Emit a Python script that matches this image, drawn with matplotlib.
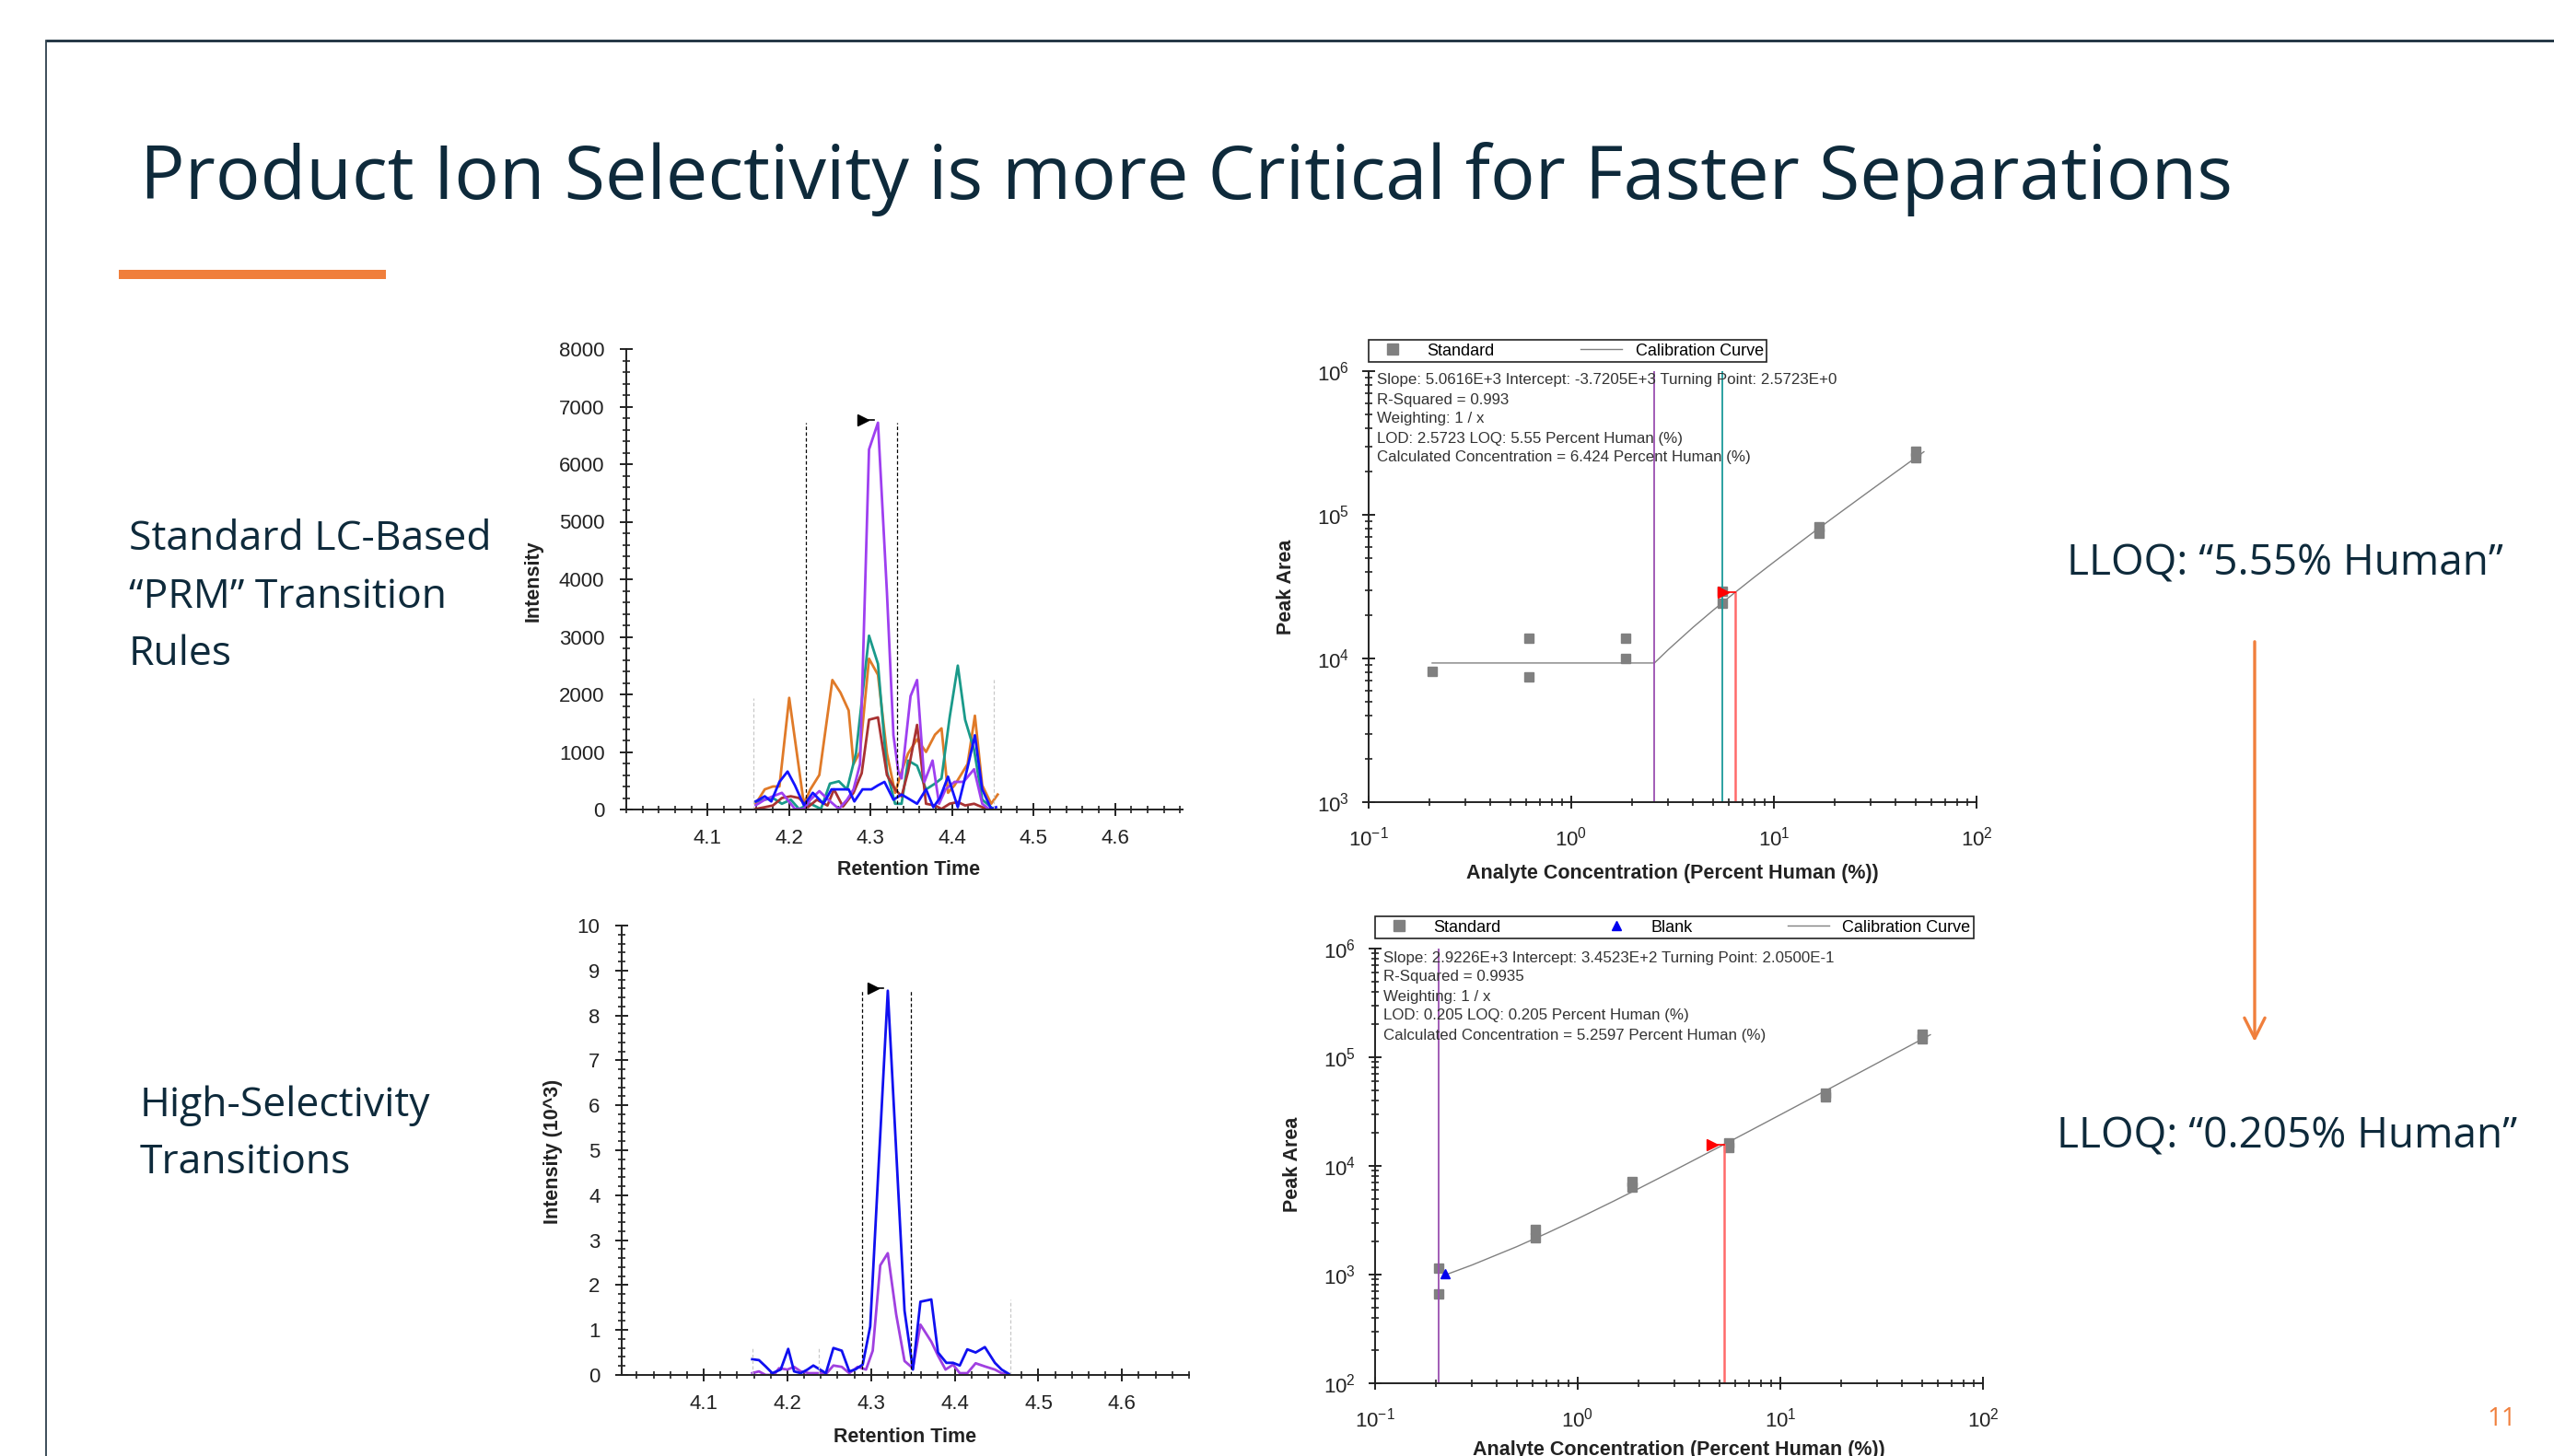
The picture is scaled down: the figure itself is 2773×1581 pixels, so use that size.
import matplotlib
matplotlib.use('Agg')
import matplotlib.pyplot as plt
from matplotlib.lines import Line2D
from matplotlib.patches import Rectangle
from matplotlib.ticker import MultipleLocator, FixedLocator, LogLocator, NullFormatter

W, H = 2773, 1581
NAVY = '#0e2a3b'
ORANGE = '#f07f3c'
INK = '#222222'

plt.rcParams['font.family'] = ['Liberation Sans', 'DejaVu Sans']
plt.rcParams['mathtext.fontset'] = 'custom'
plt.rcParams['mathtext.rm'] = 'Liberation Sans'
plt.rcParams['mathtext.it'] = 'Liberation Sans:italic'
plt.rcParams['mathtext.bf'] = 'Liberation Sans:bold'

# ---- chromatogram, standard transitions (intensity)
top_orange_t = [4.159, 4.170, 4.180, 4.188, 4.200, 4.218, 4.226, 4.237, 4.253, 4.263, 4.273, 4.279, 4.287, 4.298, 4.309,
                4.320, 4.330, 4.338, 4.346, 4.357, 4.368, 4.379, 4.387, 4.395, 4.403, 4.419, 4.428, 4.437, 4.448, 4.456]
top_orange_i = [100, 350, 400, 400, 1940, 100, 350, 600, 2250, 2030, 1720, 790, 1000, 2620, 2340,
                975, 290, 660, 975, 1220, 1000, 1300, 1410, 290, 420, 790, 1630, 420, 100, 260]
top_teal_t = [4.159, 4.170, 4.180, 4.191, 4.202, 4.212, 4.226, 4.239, 4.250, 4.261, 4.271, 4.282, 4.298, 4.309,
              4.320, 4.330, 4.338, 4.346, 4.357, 4.368, 4.379, 4.387, 4.397, 4.407, 4.416, 4.427, 4.437, 4.448]
top_teal_i = [140, 170, 200, 100, 170, 10, 100, 10, 450, 490, 350, 975, 3020, 2530,
              660, 100, 100, 850, 760, 350, 450, 540, 1600, 2500, 1560, 1040, 170, 40]
top_brown_t = [4.159, 4.170, 4.180, 4.191, 4.202, 4.212, 4.223, 4.234, 4.247, 4.255, 4.266, 4.279, 4.289, 4.298, 4.309,
               4.320, 4.330, 4.338, 4.346, 4.357, 4.368, 4.379, 4.387, 4.397, 4.407, 4.416, 4.427, 4.437, 4.445]
top_brown_i = [10, 40, 70, 200, 230, 200, 40, 170, 70, 350, 50, 290, 630, 1560, 1600,
               600, 350, 230, 660, 1470, 100, 70, 10, 100, 130, 70, 100, 40, 10]
top_purple_t = [4.159, 4.170, 4.180, 4.191, 4.202, 4.207, 4.218, 4.226, 4.237, 4.248, 4.261, 4.271, 4.279, 4.287, 4.298,
                4.309, 4.320, 4.328, 4.334, 4.338, 4.349, 4.357, 4.366, 4.376, 4.384, 4.392, 4.403, 4.414, 4.427, 4.437, 4.445]
top_purple_i = [75, 170, 230, 290, 100, 10, 10, 170, 320, 170, 10, 170, 350, 790, 6255,
                6720, 3770, 1290, 660, 540, 1970, 2250, 480, 850, 100, 350, 480, 480, 700, 100, 10]
top_blue_t = [4.159, 4.170, 4.178, 4.188, 4.198, 4.207, 4.218, 4.229, 4.242, 4.252, 4.263, 4.273, 4.280, 4.290, 4.301,
              4.309, 4.317, 4.328, 4.338, 4.357, 4.368, 4.377, 4.385, 4.395, 4.407, 4.419, 4.428, 4.437, 4.448, 4.454]
top_blue_i = [140, 230, 140, 480, 660, 420, 75, 290, 100, 350, 350, 350, 140, 350, 350,
              420, 480, 170, 260, 100, 350, 40, 200, 570, 40, 730, 1290, 350, 10, 40]
top_peak_bounds = [4.2205, 4.332]
top_window = [(4.156, 1940), (4.451, 2250)]
top_apex = (4.291, 6765)

# ---- chromatogram, high-selectivity transitions (intensity x 10^3)
bot_blue_t = [4.158, 4.166, 4.174, 4.182, 4.192, 4.201, 4.208, 4.216, 4.224, 4.231, 4.239, 4.246, 4.255, 4.265, 4.274,
              4.281, 4.290, 4.299, 4.310, 4.320, 4.330, 4.340, 4.350, 4.359, 4.372, 4.380, 4.390, 4.398, 4.406, 4.415,
              4.425, 4.436, 4.448, 4.456, 4.465]
bot_blue_i = [0.35, 0.33, 0.19, 0.04, 0.12, 0.58, 0.08, 0.04, 0.12, 0.21, 0.12, 0.04, 0.60, 0.54, 0.08,
              0.12, 0.23, 1.08, 4.99, 8.55, 5.0, 1.43, 0.12, 1.63, 1.68, 0.5, 0.27, 0.27, 0.21, 0.57,
              0.5, 0.62, 0.27, 0.12, 0.02]
bot_purple_t = [4.158, 4.166, 4.174, 4.184, 4.190, 4.200, 4.208, 4.216, 4.226, 4.237, 4.247, 4.255, 4.265, 4.274, 4.284,
                4.294, 4.302, 4.311, 4.320, 4.330, 4.340, 4.350, 4.359, 4.372, 4.380, 4.389, 4.398, 4.406, 4.415, 4.425,
                4.436, 4.448, 4.456, 4.465]
bot_purple_i = [0.04, 0.08, 0.0, 0.0, 0.15, 0.12, 0.18, 0.08, 0.04, 0.04, 0.04, 0.21, 0.18, 0.04, 0.18,
                0.12, 0.54, 2.44, 2.71, 1.35, 0.31, 0.15, 1.12, 0.74, 0.43, 0.12, 0.23, 0.04, 0.04, 0.26,
                0.19, 0.12, 0.04, 0.0]
bot_peak_bounds = [4.289, 4.348]
bot_window = [(4.158, 0.6), (4.238, 0.6), (4.467, 1.68)]
bot_apex = (4.303, 8.61)

# ---- calibration curves (percent human vs peak area)
cal1_std_x = [0.2058, 0.617, 0.617, 1.852, 1.852, 5.556, 5.556, 16.67, 16.67, 50, 50]
cal1_std_y = [8150, 13900, 7430, 13800, 9950, 29200, 24300, 82000, 74000, 276000, 250000]
cal1_fit_x = [0.2058, 2.5723, 3, 4, 5, 6, 8, 10, 15, 20, 30, 40, 55]
cal1_fit_y = [9300, 9300, 11464, 16526, 21588, 26649, 36772, 46895, 72204, 97511, 148128, 198744, 274668]
cal1_lod, cal1_loq, cal1_calc, cal1_calc_area = 2.5723, 5.55, 6.424, 28800
cal1_text = ['Slope: 5.0616E+3 Intercept: -3.7205E+3 Turning Point: 2.5723E+0',
             'R-Squared = 0.993',
             'Weighting: 1 / x',
             'LOD: 2.5723 LOQ: 5.55 Percent Human (%)',
             'Calculated Concentration = 6.424 Percent Human (%)']

cal2_std_x = [0.2058, 0.2058, 0.617, 0.617, 1.852, 1.852, 5.556, 5.556, 16.67, 16.67, 50, 50]
cal2_std_y = [1150, 665, 2610, 2200, 7140, 6400, 16250, 14870, 46900, 42800, 164000, 147000]
cal2_blank_x = [0.222]
cal2_blank_y = [1010]
cal2_fit_x = [0.23, 0.3, 0.5, 0.7, 1, 1.5, 2, 3, 5, 7, 10, 15, 20, 30, 55]
cal2_fit_y = [1017, 1222, 1806, 2391, 3268, 4729, 6190, 9113, 14958, 20803, 29571, 44184, 58797, 88023, 161088]
cal2_lod, cal2_calc, cal2_calc_area = 0.205, 5.2597, 15717
cal2_text = ['Slope: 2.9226E+3 Intercept: 3.4523E+2 Turning Point: 2.0500E-1',
             'R-Squared = 0.9935',
             'Weighting: 1 / x',
             'LOD: 0.205 LOQ: 0.205 Percent Human (%)',
             'Calculated Concentration = 5.2597 Percent Human (%)']

fig = plt.figure(figsize=(W / 100, H / 100), dpi=100)
fig.patch.set_facecolor('white')

# background axes in pixel coordinates for the slide decoration
bg = fig.add_axes([0, 0, 1, 1])
bg.set_xlim(0, W)
bg.set_ylim(H, 0)
bg.axis('off')
bg.plot([50, W], [44, 44], color='#1b2f3d', lw=2.0, solid_capstyle='butt')
bg.plot([50, 50], [44, H], color='#1b2f3d', lw=1.2)
bg.add_patch(Rectangle((129, 293), 290, 10, color=ORANGE, lw=0))
bg.text(152, 216, 'Product Ion Selectivity is more Critical for Faster Separations',
        family='Open Sans', fontsize=58.3, color=NAVY, va='baseline', ha='left')
for txt, x, y in [('Standard LC-Based', 140, 586), ('\u201cPRM\u201d Transition', 140, 649), ('Rules', 140, 711),
                  ('High-Selectivity', 152, 1201), ('Transitions', 152, 1263)]:
    bg.text(x, y, txt, family='Open Sans', fontsize=32, color=NAVY, va='center', ha='left')
bg.text(2481, 612, 'LLOQ: \u201c5.55% Human\u201d', family='Open Sans', fontsize=33, color=NAVY, va='center', ha='center')
bg.text(2483, 1234, 'LLOQ: \u201c0.205% Human\u201d', family='Open Sans', fontsize=33, color=NAVY, va='center', ha='center')
bg.annotate('', xy=(2448, 1134), xytext=(2448, 694),
            arrowprops=dict(arrowstyle='->,head_length=1.6,head_width=0.8', color=ORANGE, lw=2.4))
bg.text(2716, 1541, '11', family='Open Sans', fontsize=20, color=ORANGE, va='center', ha='center')


def px_axes(l, t, r, b):
    return fig.add_axes([l / W, 1 - b / H, (r - l) / W, (b - t) / H])


def style_axes(ax):
    ax.set_facecolor('none')
    for s in ['top', 'right']:
        ax.spines[s].set_visible(False)
    for s in ['left', 'bottom']:
        ax.spines[s].set_linewidth(1.4)
        ax.spines[s].set_color(INK)
    ax.tick_params(which='major', direction='inout', length=10, width=1.4, labelsize=16,
                   colors=INK, pad=10)
    ax.tick_params(which='minor', direction='inout', length=5.5, width=1.2, colors=INK)


def style_chrom(ax, ymax, ymajor, yminor):
    style_axes(ax)
    ax.set_ylim(0, ymax)
    ax.xaxis.set_major_locator(FixedLocator([4.1, 4.2, 4.3, 4.4, 4.5, 4.6]))
    ax.xaxis.set_minor_locator(MultipleLocator(0.02))
    ax.yaxis.set_major_locator(MultipleLocator(ymajor))
    ax.yaxis.set_minor_locator(MultipleLocator(yminor))
    ax.set_xticklabels(['4.1', '4.2', '4.3', '4.4', '4.5', '4.6'])
    ax.tick_params(axis='y', pad=12)


LW = 2.0

# ---- top chromatogram
ax1 = px_axes(680, 379, 1284, 879)
ax1.set_xlim(4.0, 4.683)
style_chrom(ax1, 8000, 1000, 200)
ax1.plot(top_orange_t, top_orange_i, color='#e07a28', lw=LW)
ax1.plot(top_teal_t, top_teal_i, color='#1a9a8a', lw=LW)
ax1.plot(top_brown_t, top_brown_i, color='#a83232', lw=LW)
ax1.plot(top_purple_t, top_purple_i, color='#9e3ff0', lw=LW)
ax1.plot(top_blue_t, top_blue_i, color='#1414ff', lw=LW)
for xb in top_peak_bounds:
    ax1.plot([xb, xb], [0, 6720], color='black', lw=0.9, ls=(0, (3, 2)))
for xw, yw in top_window:
    ax1.plot([xw, xw], [0, yw], color='#c8c8c8', lw=0.9, ls=(0, (3, 2)))
ax1.plot([top_apex[0], top_apex[0] + 0.013], [top_apex[1], top_apex[1]], color='black', lw=1.2)
ax1.plot([top_apex[0]], [top_apex[1]], marker='>', color='black', ms=9, ls='none')
ax1.set_ylabel('Intensity', fontsize=15.5, fontweight='bold', color=INK)
ax1.set_xlabel('Retention Time', fontsize=15.5, fontweight='bold', color=INK)
ax1.yaxis.set_label_coords(-0.149, 0.496)
ax1.xaxis.set_label_coords(0.508, -0.11)

# ---- bottom chromatogram
ax2 = px_axes(675, 1005, 1291, 1493)
ax2.set_xlim(4.002, 4.680)
style_chrom(ax2, 10, 1, 0.2)
ax2.plot(bot_purple_t, bot_purple_i, color='#a040e0', lw=LW)
ax2.plot(bot_blue_t, bot_blue_i, color='#1010f0', lw=LW)
for xb in bot_peak_bounds:
    ax2.plot([xb, xb], [0, 8.55], color='black', lw=0.9, ls=(0, (3, 2)))
for xw, yw in bot_window:
    ax2.plot([xw, xw], [0, yw], color='#c8c8c8', lw=0.9, ls=(0, (3, 2)))
ax2.plot([bot_apex[0], bot_apex[0] + 0.012], [bot_apex[1], bot_apex[1]], color='black', lw=1.2)
ax2.plot([bot_apex[0]], [bot_apex[1]], marker='>', color='black', ms=9, ls='none')
ax2.set_ylabel('Intensity (10^3)', fontsize=15.5, fontweight='bold', color=INK)
ax2.set_xlabel('Retention Time', fontsize=15.5, fontweight='bold', color=INK)
ax2.yaxis.set_label_coords(-0.104, 0.498)
ax2.xaxis.set_label_coords(0.5, -0.117)


def style_cal(ax, ylo):
    style_axes(ax)
    ax.set_xscale('log')
    ax.set_yscale('log')
    ax.set_xlim(0.1, 100)
    ax.set_ylim(ylo, 1e6)
    ax.xaxis.set_major_locator(LogLocator(base=10, numticks=10))
    ax.yaxis.set_major_locator(LogLocator(base=10, numticks=10))
    ax.xaxis.set_minor_locator(LogLocator(base=10, subs=range(2, 10), numticks=20))
    ax.yaxis.set_minor_locator(LogLocator(base=10, subs=range(2, 10), numticks=20))
    ax.xaxis.set_minor_formatter(NullFormatter())
    ax.yaxis.set_minor_formatter(NullFormatter())
    ax.tick_params(axis='x', pad=14)
    ax.set_ylabel('Peak Area', fontsize=15.5, fontweight='bold', color=INK)
    ax.set_xlabel('Analyte Concentration (Percent Human (%))', fontsize=15.5, fontweight='bold', color=INK)


GRAY = '#808080'

# ---- top calibration
ax3 = px_axes(1486, 403, 2146, 871)
style_cal(ax3, 1e3)
ax3.plot(cal1_fit_x, cal1_fit_y, color=GRAY, lw=1.0)
ax3.plot(cal1_std_x, cal1_std_y, ls='none', marker='s', color=GRAY, ms=7.5)
ax3.axvline(cal1_lod, color='#9a4fb0', lw=1.3)
ax3.axvline(cal1_loq, color='#1a9a9a', lw=1.3)
ax3.plot([cal1_calc, cal1_calc], [1e3, cal1_calc_area], color='#ff6a6a', lw=1.8)
ax3.plot([5.6, cal1_calc], [cal1_calc_area, cal1_calc_area], color='red', lw=1.2)
ax3.plot([5.6], [cal1_calc_area], marker='>', color='red', ms=9, ls='none')
for i, line in enumerate(cal1_text):
    ax3.text(0.014, (871 - (413 + 21 * i)) / 468, line, transform=ax3.transAxes,
             fontsize=12.2, color='#333333', va='center', ha='left')
ax3.yaxis.set_label_coords(-0.12, 0.5)
ax3.xaxis.set_label_coords(0.5, -0.143)
leg = ax3.legend([Line2D([], [], ls='none', marker='s', color=GRAY, ms=8),
                  Line2D([], [], color=GRAY, lw=1.0)],
                 ['Standard', 'Calibration Curve'], loc='lower left',
                 bbox_to_anchor=(0, 1.021, 0.655, 0.062), mode='expand', ncol=2,
                 borderaxespad=0, fancybox=False, edgecolor=INK, fontsize=13,
                 handlelength=2.5, borderpad=0.2, framealpha=1)
leg.get_frame().set_linewidth(1.2)

# ---- bottom calibration
ax4 = px_axes(1493, 1030, 2153, 1502)
style_cal(ax4, 1e2)
ax4.plot(cal2_fit_x, cal2_fit_y, color=GRAY, lw=1.0)
ax4.plot(cal2_std_x, cal2_std_y, ls='none', marker='s', color=GRAY, ms=7.5)
ax4.plot(cal2_blank_x, cal2_blank_y, ls='none', marker='^', color='#0000ee', ms=7)
ax4.axvline(cal2_lod, color='#9a4fb0', lw=1.3)
ax4.plot([cal2_calc, cal2_calc], [1e2, cal2_calc_area], color='#ff6a6a', lw=1.8)
ax4.plot([4.59, cal2_calc], [cal2_calc_area, cal2_calc_area], color='red', lw=1.2)
ax4.plot([4.59], [cal2_calc_area], marker='>', color='red', ms=9, ls='none')
for i, line in enumerate(cal2_text):
    ax4.text(0.014, (1502 - (1040 + 21 * i)) / 472, line, transform=ax4.transAxes,
             fontsize=12.2, color='#333333', va='center', ha='left')
ax4.yaxis.set_label_coords(-0.12, 0.504)
ax4.xaxis.set_label_coords(0.5, -0.131)
leg = ax4.legend([Line2D([], [], ls='none', marker='s', color=GRAY, ms=8),
                  Line2D([], [], ls='none', marker='^', color='#0000ee', ms=7),
                  Line2D([], [], color=GRAY, lw=1.0)],
                 ['Standard', 'Blank', 'Calibration Curve'], loc='lower left',
                 bbox_to_anchor=(0, 1.023, 0.985, 0.059), mode='expand', ncol=3,
                 borderaxespad=0, fancybox=False, edgecolor=INK, fontsize=13,
                 handlelength=2.5, borderpad=0.2, framealpha=1)
leg.get_frame().set_linewidth(1.2)

fig.savefig('out.png', dpi=100, facecolor='white')
